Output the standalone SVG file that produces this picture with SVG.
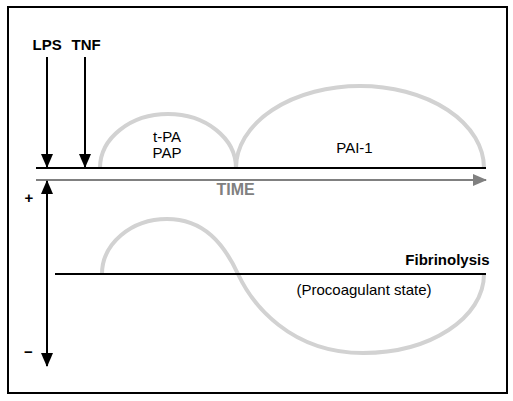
<svg xmlns="http://www.w3.org/2000/svg" width="513" height="401" viewBox="0 0 513 401">
<style>
text{font-family:"Liberation Sans",Arial,sans-serif;font-size:15px;fill:#000}
.b{font-weight:bold}
.curve{fill:none;stroke:#d2d2d2;stroke-width:4}
.blk{stroke:#000;stroke-width:2;fill:none}
.gry{stroke:#808080;stroke-width:2;fill:none}
</style>
<defs>
<marker id="ah" viewBox="0 0 14 12" refX="13" refY="6" markerWidth="14" markerHeight="12" markerUnits="userSpaceOnUse" orient="auto-start-reverse">
<path d="M0,0 L14,6 L0,12 z" fill="#000"/>
</marker>
<marker id="ahg" viewBox="0 0 14 12" refX="13" refY="6" markerWidth="14" markerHeight="12" markerUnits="userSpaceOnUse" orient="auto">
<path d="M0,0 L14,6 L0,12 z" fill="#808080"/>
</marker>
</defs>
<rect x="8" y="7" width="499" height="386" fill="#fff" stroke="#000" stroke-width="2"/>
<g id="curves">
<path class="curve" d="M100,168 A68 54 0 0 1 236,168"/>
<path class="curve" d="M236,168 A124 82 0 0 1 484,168"/>
<path class="curve" d="M102,274 C102,244 131,219 167,219 C204,219 224,244 238,274 C252,304 290,353 363,353 C430,353 484,318 484,274"/>
</g>
<g id="connectors">
<line class="blk" x1="47" y1="57" x2="47" y2="167" marker-end="url(#ah)"/>
<line class="blk" x1="85" y1="57" x2="85" y2="167" marker-end="url(#ah)"/>
<line class="blk" x1="36" y1="168" x2="486" y2="168"/>
<line class="gry" x1="36" y1="180" x2="486" y2="180" marker-end="url(#ahg)"/>
<line class="blk" x1="47" y1="181" x2="47" y2="366" marker-start="url(#ah)" marker-end="url(#ah)"/>
<line class="blk" x1="55" y1="274" x2="486" y2="274"/>
</g>
<g id="lps"><text class="b" x="32.5" y="50">LPS</text></g>
<g id="tnf"><text class="b" x="71.5" y="50">TNF</text></g>
<g id="tpa"><text x="167" y="141.5" text-anchor="middle">t-PA</text><text x="167" y="158" text-anchor="middle">PAP</text></g>
<g id="pai1"><text x="354.5" y="153" text-anchor="middle">PAI-1</text></g>
<g id="time"><text class="b" x="216.5" y="195" style="font-size:16px;fill:#808080">TIME</text></g>
<g id="plus"><text class="b" x="29" y="203" text-anchor="middle">+</text></g>
<g id="minus"><text class="b" x="28.5" y="357" text-anchor="middle">−</text></g>
<g id="fibrinolysis"><text class="b" x="489.5" y="265" text-anchor="end">Fibrinolysis</text></g>
<g id="procoag"><text x="364" y="295" text-anchor="middle">(Procoagulant state)</text></g>
</svg>
